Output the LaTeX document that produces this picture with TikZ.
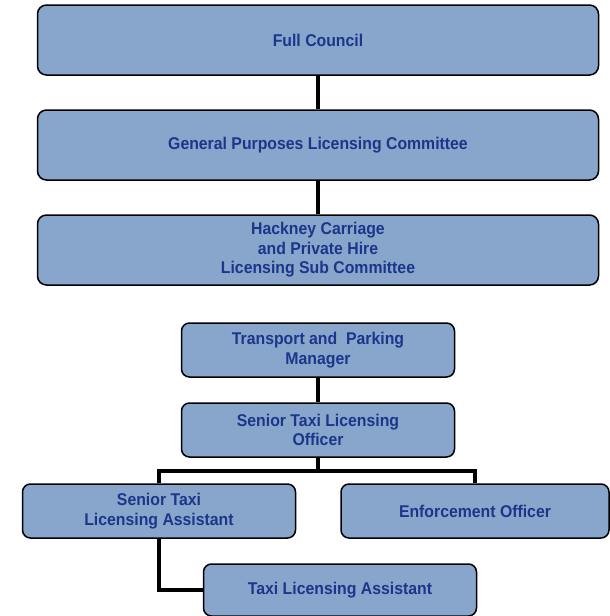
\documentclass[tikz,border=0pt]{standalone}
\usepackage{fontspec}
\setmainfont[FakeStretch=0.93]{Liberation Sans}
\usetikzlibrary{backgrounds}
\definecolor{boxfill}{HTML}{88A6CC}
\definecolor{boxtext}{HTML}{1B368A}
\tikzset{
  orgbox/.style={draw=black, line width=1.5pt, fill=boxfill, rounded corners=9pt,
    text=boxtext, align=center, inner sep=0pt,
    font=\fontsize{17}{19.5}\selectfont\bfseries},
  bigbox/.style={orgbox, minimum width=561pt, minimum height=70pt},
  smallbox/.style={orgbox, minimum width=273pt, minimum height=54pt, rounded corners=8pt},
  conn/.style={draw=black, line width=4.8pt, line join=miter}
}
\begin{document}
\begin{tikzpicture}[x=1pt,y=-1pt]
\useasboundingbox (0,0) rectangle (610,616);
\node[bigbox] (b1) at (318,40) {Full Council};
\node[bigbox] (b2) at (318,145) {General Purposes Licensing Committee};
\node[bigbox] (b3) at (318,250) {Hackney Carriage\\and Private Hire\\Licensing Sub Committee};
\node[smallbox] (b4) at (318,350) {Transport and\ \ Parking\\Manager};
\node[smallbox] (b5) at (318,430) {Senior Taxi Licensing\\Officer};
\node[smallbox] (b6) at (159,511) {Senior Taxi\\Licensing Assistant};
\node[smallbox, minimum width=268pt] (b7) at (475,511) {Enforcement Officer};
\node[smallbox, minimum height=52pt] (b8) at (340,590) {Taxi Licensing Assistant};
\coordinate (j) at (318,471);
\begin{scope}[on background layer]
\draw[conn] (b1) -- (b2);
\draw[conn] (b2) -- (b3);
\draw[conn] (b4) -- (b5);
\draw[conn] (b5) -- (j);
\draw[conn] (b6.north) |- (j) -| (b7.north);
\draw[conn] (b6.south) |- (b8.west);
\end{scope}
\end{tikzpicture}
\end{document}
